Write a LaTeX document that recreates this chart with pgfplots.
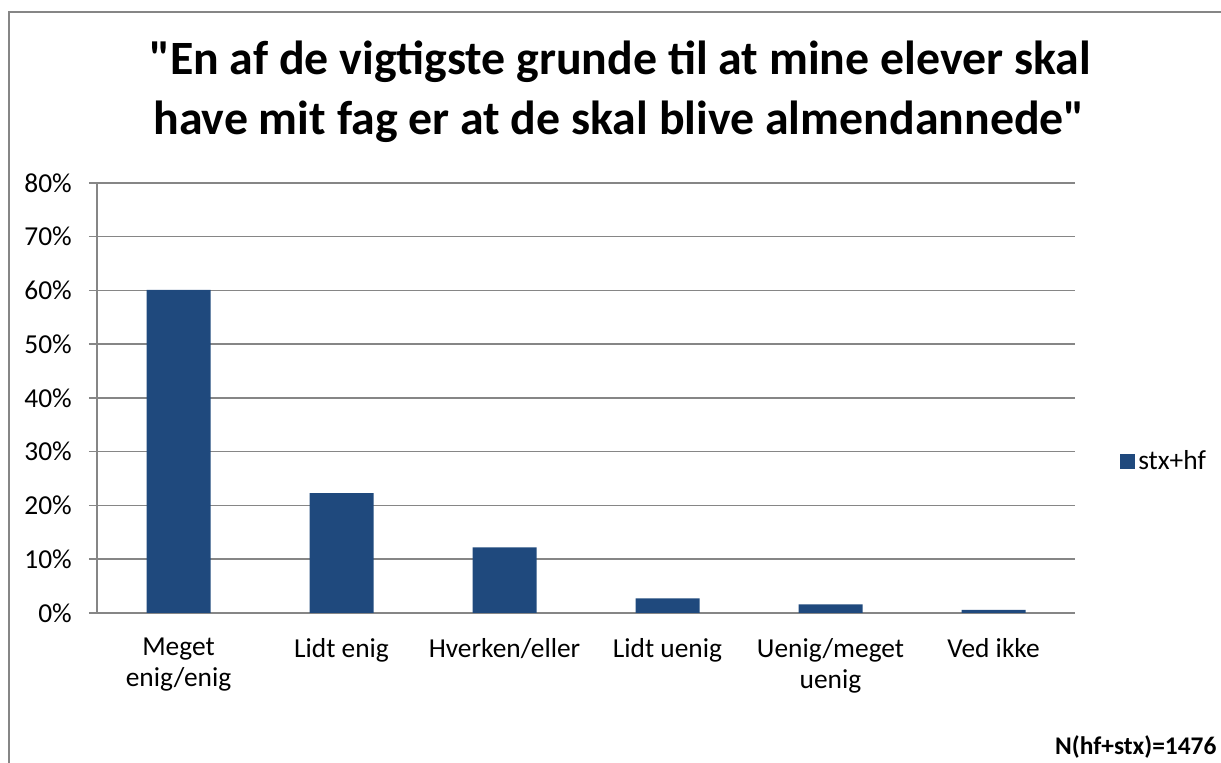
\documentclass[border=0pt]{standalone}
\usepackage{pgfplots}
\pgfplotsset{compat=1.18}
\usepackage{fontspec}
\setmainfont{Carlito}[Ligatures=TeXOff]
\definecolor{barblue}{HTML}{1F497D}
\definecolor{gridgray}{HTML}{868686}
\begin{document}
\begin{tikzpicture}[x=1bp,y=1bp]
\path[use as bounding box] (0,0) rectangle (1221,763);
\clip (0,0) rectangle (1221,763);
\draw[gridgray, line width=1.5bp] (9,-20) -- (9,751) -- (1260,751);
\node[anchor=base, font=\bfseries\fontsize{48}{58}\selectfont] at (620,688) {"En af de vigtigste grunde til at mine elever skal};
\node[anchor=base, font=\bfseries\fontsize{48}{58}\selectfont] at (619,628) {have mit fag er at de skal blive almendannede"};
\begin{axis}[
  at={(97bp,150bp)}, anchor=south west,
  scale only axis, width=978bp, height=430bp,
  xmin=-0.5, xmax=5.5, ymin=0, ymax=80,
  ytick={0,10,...,80},
  /pgf/number format/assume math mode=true,
  yticklabel={\pgfmathprintnumber{\tick}\%},
  ymajorgrids, grid style={gridgray, line width=1.5bp},
  axis x line*=bottom, axis y line*=left,
  axis line style={gridgray, line width=1.5bp},
  xtick={0,...,5},
  xticklabels={{Meget\\enig/enig},{Lidt enig},{Hverken/eller},{Lidt uenig},{Uenig/meget\\uenig},{Ved ikke}},
  x tick style={draw=none},
  y tick style={gridgray, line width=1.5bp},
  tick align=outside, major tick length=8bp,
  tick label style={font=\fontsize{27.5}{31}\selectfont},
  xticklabel style={align=center, inner sep=0pt, yshift=-17bp},
  yticklabel style={inner sep=0pt, xshift=-17bp},
  ybar, bar width=64bp,
  legend style={draw=none, fill=none, at={(1.043,0.353)}, anchor=west,
    font=\fontsize{27.5}{32}\selectfont, nodes={inner sep=3bp}},
  legend image code/.code={\fill[barblue] (0bp,-7.5bp) rectangle (15bp,7.5bp);},
]
\addplot[fill=barblue, draw=none] coordinates {(0,60.1) (1,22.3) (2,12.2) (3,2.7) (4,1.6) (5,0.6)};
\addlegendentry{stx+hf}
\end{axis}
\node[anchor=base west, inner sep=0pt, font=\bfseries\fontsize{25.5}{30}\selectfont] at (1055,8) {N(hf+stx)=1476};
\end{tikzpicture}
\end{document}
